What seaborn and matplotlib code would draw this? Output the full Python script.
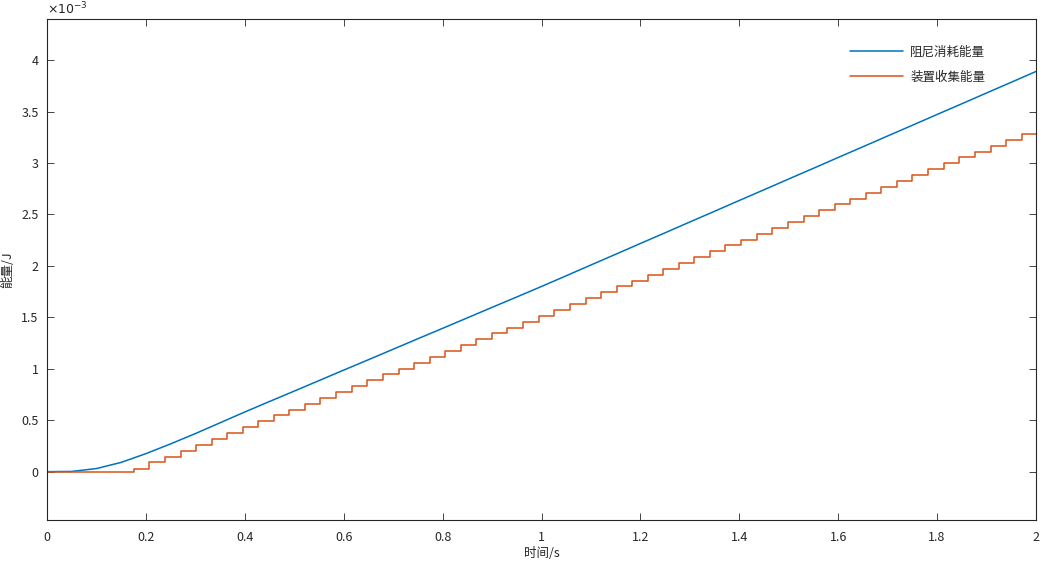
import numpy as np
import pandas as pd
import seaborn as sns
import matplotlib.pyplot as plt

sns.set_theme(style='white')
plt.rcParams['font.family'] = ['Noto Sans CJK SC', 'DejaVu Sans']
plt.rcParams['axes.unicode_minus'] = False

# blue: damping dissipated energy (x1e-3 J), sampled every 0.05 s
t_blue = [0.00, 0.05, 0.10, 0.15, 0.20, 0.25, 0.30, 0.35, 0.40, 0.45,
          0.50, 0.55, 0.60, 0.65, 0.70, 0.75, 0.80, 0.85, 0.90, 0.95,
          1.00, 1.05, 1.10, 1.15, 1.20, 1.25, 1.30, 1.35, 1.40, 1.45,
          1.50, 1.55, 1.60, 1.65, 1.70, 1.75, 1.80, 1.85, 1.90, 1.95, 2.00]
e_blue = [0.000, 0.002, 0.030, 0.090, 0.175, 0.270, 0.370, 0.475, 0.580, 0.682,
          0.783, 0.885, 0.987, 1.088, 1.190, 1.292, 1.393, 1.495, 1.597, 1.698,
          1.800, 1.904, 2.009, 2.113, 2.218, 2.322, 2.427, 2.531, 2.636, 2.740,
          2.845, 2.949, 3.054, 3.158, 3.263, 3.367, 3.472, 3.576, 3.681, 3.785, 3.890]

# orange: harvested energy, step rises (s) and level after each rise (x1e-3 J)
t_step = [0.000, 0.175, 0.207, 0.238, 0.270, 0.301, 0.333, 0.364, 0.396, 0.427,
          0.459, 0.490, 0.522, 0.553, 0.585, 0.616, 0.648, 0.679, 0.711, 0.742,
          0.774, 0.805, 0.837, 0.868, 0.900, 0.931, 0.963, 0.994, 1.026, 1.057,
          1.089, 1.120, 1.152, 1.183, 1.215, 1.246, 1.278, 1.309, 1.341, 1.372,
          1.404, 1.435, 1.467, 1.498, 1.530, 1.561, 1.593, 1.624, 1.656, 1.687,
          1.719, 1.750, 1.782, 1.813, 1.845, 1.876, 1.908, 1.939, 1.971, 2.000]
e_step = [0.000, 0.030, 0.090, 0.147, 0.204, 0.261, 0.318, 0.375, 0.432, 0.489,
          0.546, 0.603, 0.660, 0.717, 0.774, 0.831, 0.888, 0.945, 1.002, 1.059,
          1.116, 1.173, 1.230, 1.287, 1.344, 1.401, 1.458, 1.515, 1.572, 1.629,
          1.686, 1.743, 1.800, 1.857, 1.914, 1.971, 2.028, 2.085, 2.142, 2.199,
          2.256, 2.313, 2.370, 2.427, 2.484, 2.541, 2.598, 2.655, 2.712, 2.769,
          2.826, 2.883, 2.940, 2.997, 3.054, 3.111, 3.168, 3.225, 3.282, 3.282]

labels = ['阻尼消耗能量', '装置收集能量']
x_ticks = [0, 0.2, 0.4, 0.6, 0.8, 1, 1.2, 1.4, 1.6, 1.8, 2]
y_ticks = [0, 0.5, 1, 1.5, 2, 2.5, 3, 3.5, 4]

fig = plt.figure(figsize=(10.51, 5.65), dpi=100)
ax = fig.add_axes([47 / 1051, 1 - 520 / 565, 989 / 1051, 501 / 565])

sns.lineplot(x=t_blue, y=e_blue, ax=ax, color='#0072BD', lw=1.1,
             estimator=None, label=labels[0])
sns.lineplot(x=t_step, y=e_step, ax=ax, color='#D95319', lw=1.1,
             estimator=None, drawstyle='steps-post', label=labels[1])

ax.set_xlim(0, 2)
ax.set_ylim(-0.47, 4.4)
ax.set_xticks(x_ticks)
ax.set_xticklabels([f'{v:g}' for v in x_ticks])
ax.set_yticks(y_ticks)
ax.set_yticklabels([f'{v:g}' for v in y_ticks])

grey = '#262626'
for s in ax.spines.values():
    s.set_visible(True)
    s.set_color(grey)
    s.set_linewidth(0.8)
ax.tick_params(direction='in', length=5, width=0.6, colors=grey, labelsize=9,
               top=True, right=True, bottom=True, left=True)
ax.tick_params(axis='x', pad=8)
ax.tick_params(axis='y', pad=6)

ax.set_xlabel('时间/s', fontsize=9, color=grey, labelpad=2)
ax.set_ylabel('能量/J', fontsize=9, color=grey)
ax.yaxis.set_label_coords(-0.033, 0.5)
ax.text(0, 1.003, r'$\times10^{-3}$', transform=ax.transAxes, fontsize=9,
        color=grey, ha='left', va='bottom', family='DejaVu Sans')

ax.legend(loc='upper right', bbox_to_anchor=(0.96, 0.97), frameon=False,
          fontsize=9, handlelength=4.2, labelspacing=1.0, handletextpad=0.6)

fig.savefig('out.png', dpi=100)
